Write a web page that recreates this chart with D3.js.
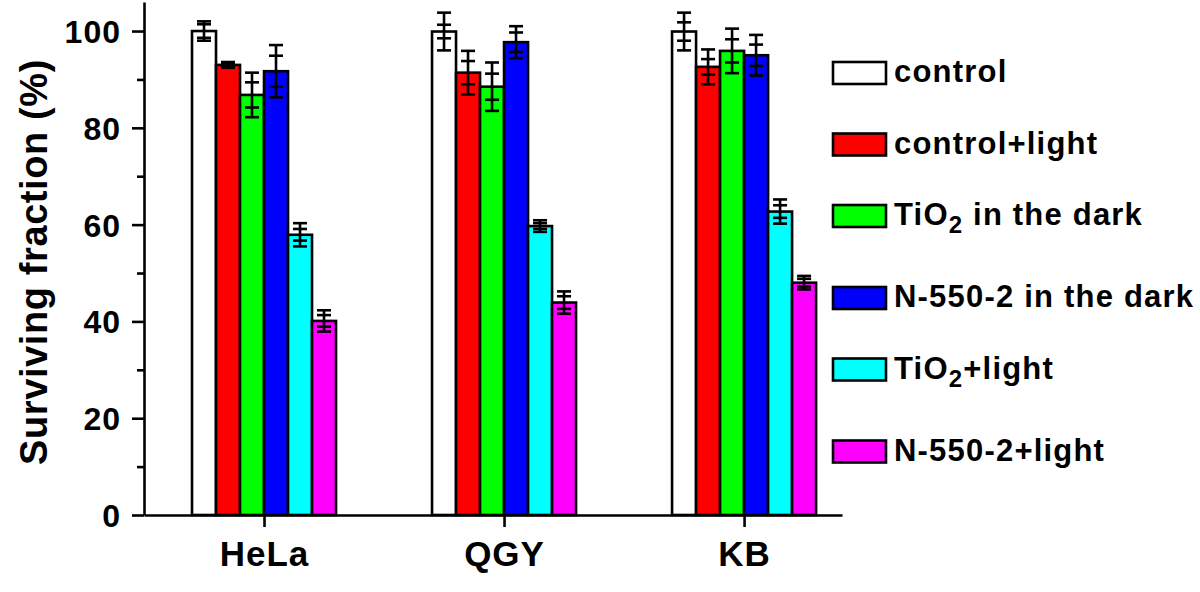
<!DOCTYPE html>
<html><head><meta charset="utf-8">
<script src="https://cdn.jsdelivr.net/npm/d3@7"></script>
<style>
html,body{margin:0;padding:0;background:#fff;}
text{font-family:"Liberation Sans",Arial,sans-serif;font-weight:bold;fill:#000;}
</style></head>
<body>
<svg id="chart" width="1200" height="592"></svg>
<script>
// ---- data ----
const categories = ["HeLa", "QGY", "KB"];
const seriesNames = ["control", "control+light", "TiO2 in the dark", "N-550-2 in the dark", "TiO2+light", "N-550-2+light"];
const seriesColors = ["#ffffff", "#ff0000", "#00ff00", "#0000ff", "#00ffff", "#ff00ff"];
const controlVals      = [100.0, 99.9, 99.9];
const controlLightVals = [93.0, 91.4, 92.6];
const tio2DarkVals     = [86.8, 88.5, 95.9];
const n550DarkVals     = [91.7, 97.7, 95.0];
const tio2LightVals    = [57.9, 59.7, 62.7];
const n550LightVals    = [40.1, 43.9, 48.0];
const errOuter = [
  [2.0, 3.9, 3.9],
  [0.6, 4.5, 3.6],
  [4.6, 5.0, 4.6],
  [5.4, 3.3, 4.2],
  [2.4, 1.2, 2.5],
  [2.2, 2.3, 1.4]
];
const errInner = [
  [1.4, 1.4, 1.9],
  [0.3, 2.4, 1.6],
  [2.6, 2.7, 2.4],
  [3.2, 2.0, 2.2],
  [1.2, 0.6, 1.3],
  [1.2, 1.3, 0.8]
];
const yTicks = [0, 20, 40, 60, 80, 100];
const yMinorTicks = [10, 30, 50, 70, 90];
const yTitle = "Surviving fraction (%)";

const seriesVals = [controlVals, controlLightVals, tio2DarkVals, n550DarkVals, tio2LightVals, n550LightVals];

// ---- layout ----
const svg = d3.select("#chart");
const x0 = 144, x1 = 842, yBottom = 515, yTop = 2;
const x = d3.scaleLinear().domain([0.5, 3.408]).range([x0, x1]);
const y = d3.scaleLinear().domain([0, 106]).range([yBottom, yTop]);
const barW = 0.1; // in category units

const bars = [];
seriesVals.forEach((vals, si) => {
  vals.forEach((v, ci) => {
    bars.push({si, ci, v, eo: errOuter[si][ci], ei: errInner[si][ci]});
  });
});
const barLeft = d => (d.ci + 1) - 3 * barW + d.si * barW;

const g = svg.append("g");
g.selectAll("rect.bar").data(bars).enter().append("rect")
  .attr("class", "bar")
  .attr("x", d => x(barLeft(d)))
  .attr("width", d => x(barLeft(d) + barW) - x(barLeft(d)))
  .attr("y", d => y(d.v))
  .attr("height", d => y(0) - y(d.v))
  .attr("fill", d => seriesColors[d.si])
  .attr("stroke", "#000").attr("stroke-width", 2.6);

// error bars
const eb = g.selectAll("g.err").data(bars).enter().append("g").attr("class", "err")
  .attr("stroke", "#000").attr("stroke-width", 2.6);
const cx = d => x(barLeft(d) + barW / 2);
const capHalf = 7;
eb.append("line").attr("x1", cx).attr("x2", cx).attr("y1", d => y(d.v + d.eo)).attr("y2", d => y(d.v - d.eo));
[[1, "eo"], [-1, "eo"], [1, "ei"], [-1, "ei"]].forEach(([s, k]) => {
  eb.append("line")
    .attr("x1", d => cx(d) - capHalf).attr("x2", d => cx(d) + capHalf)
    .attr("y1", d => y(d.v + s * d[k])).attr("y2", d => y(d.v + s * d[k]));
});

// axes
const yAxis = d3.axisLeft(y).tickValues(yTicks).tickSize(12).tickPadding(11).tickSizeOuter(0);
const yg = svg.append("g").attr("transform", `translate(${x0},0)`).call(yAxis);
yg.select(".domain").attr("stroke-width", 2.6);
yg.selectAll(".tick line").attr("stroke-width", 2.6);
yg.selectAll(".tick text").style("font-size", "32px").attr("dy", "0.36em")
  .style("letter-spacing", "1px");
const yMinor = d3.axisLeft(y).tickValues(yMinorTicks).tickSize(7).tickFormat("").tickSizeOuter(0);
const ym = svg.append("g").attr("transform", `translate(${x0},0)`).call(yMinor);
ym.select(".domain").remove();
ym.selectAll(".tick line").attr("stroke-width", 2.6);

const xAxis = d3.axisBottom(x).tickValues([1, 2, 3]).tickFormat((d, i) => categories[i]).tickSize(12).tickPadding(14).tickSizeOuter(0);
const xg = svg.append("g").attr("transform", `translate(0,${yBottom})`).call(xAxis);
xg.select(".domain").attr("stroke-width", 2.6);
xg.selectAll(".tick line").attr("stroke-width", 2.6);
xg.selectAll(".tick text").style("font-size", "35px").style("letter-spacing", "1px");

// y title
svg.append("text")
  .attr("transform", "translate(47,262) rotate(-90)")
  .attr("text-anchor", "middle")
  .style("font-size", "38px").style("letter-spacing", "0.6px")
  .text(yTitle);

// legend
const lg = svg.append("g");
let ly = 73;
seriesNames.forEach((name, i) => {
  const hasSub = /O2/.test(name);
  lg.append("rect").attr("x", 833).attr("y", ly - 11).attr("width", 53).attr("height", 22)
    .attr("fill", seriesColors[i]).attr("stroke", "#000").attr("stroke-width", 2.6);
  const t = lg.append("text").attr("x", 894).attr("y", ly + 9)
    .style("font-size", "31px").style("letter-spacing", "1.2px");
  if (hasSub) {
    const parts = name.split("O2");
    t.append("tspan").text(parts[0] + "O");
    t.append("tspan").attr("dy", 8).style("font-size", "24px").text("2");
    t.append("tspan").attr("dy", -8).text(parts[1]);
  } else {
    t.text(name);
  }
  ly += 71.5 + (hasSub ? 10.5 : 0);
});
</script>
</body></html>
